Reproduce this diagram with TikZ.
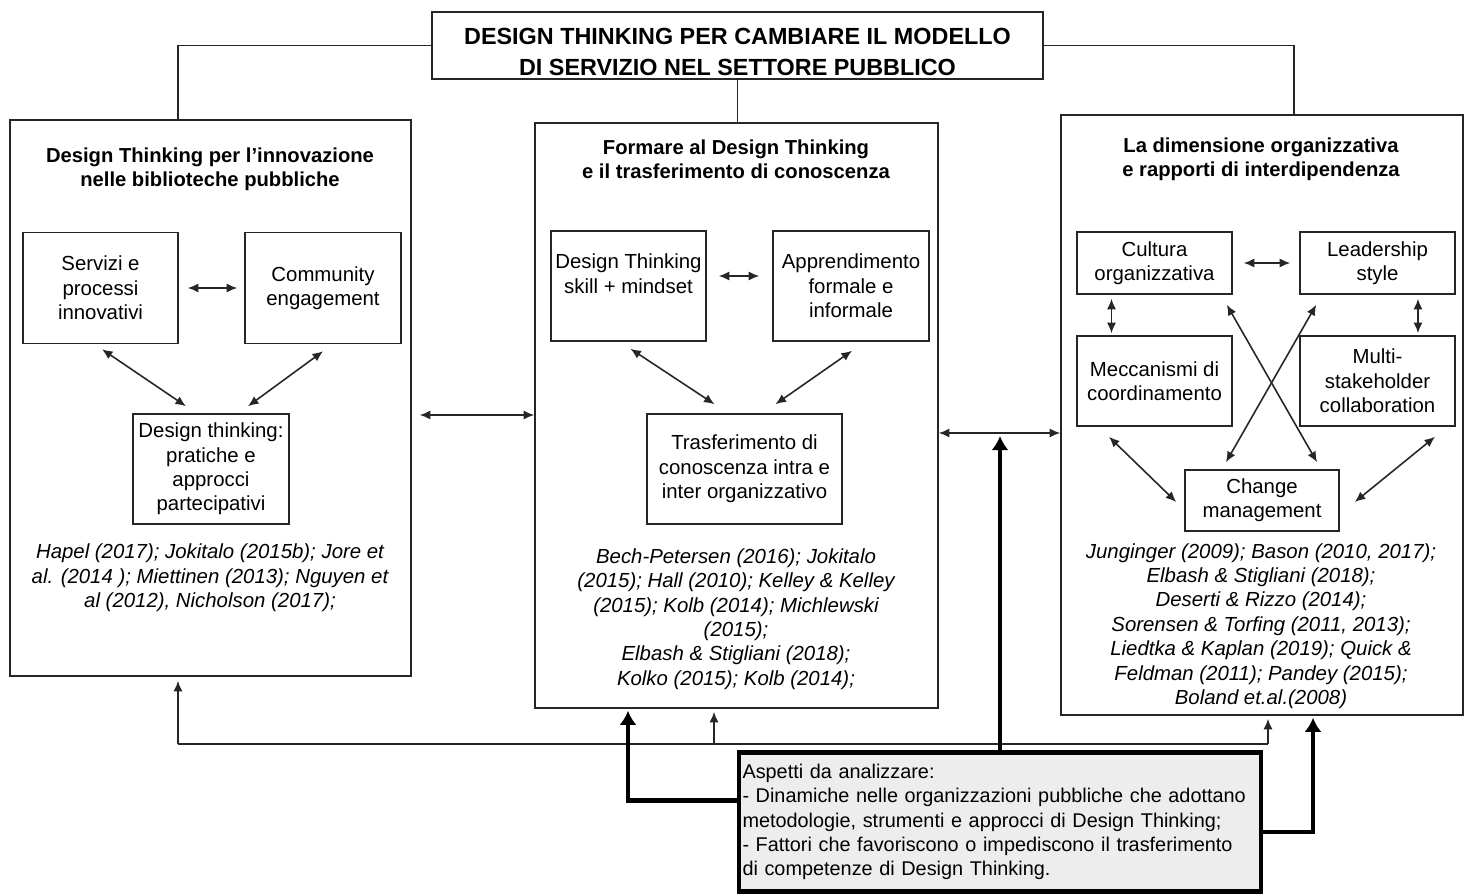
\documentclass[tikz,border=0pt]{standalone}
\usepackage{fontspec}
\setmainfont{Liberation Sans}
\usetikzlibrary{arrows.meta, calc}

\newcommand\bodysize{\fontsize{11.6}{13.9}\selectfont}
\newcommand\aspsize{\fontsize{11.3}{13.9}\selectfont}
\newcommand\headsize{\fontsize{11.5}{13.6}\selectfont}
\newcommand\titlesize{\fontsize{13.3}{17.5}\selectfont}

\begin{document}
\begin{tikzpicture}[x=0.2mm, y=-0.2mm,
    wire/.style={line width=0.9pt, draw=black!85},
    dbl/.style={wire, {Latex[length=2.1mm,width=1.8mm]}-{Latex[length=2.1mm,width=1.8mm]}},
    up/.style={wire, -{Latex[length=2.1mm,width=1.8mm]}},
    heavy/.style={line width=2.8pt, -{Latex[length=2.8mm,width=3.4mm]}},
    box/.style={draw=black!85, line width=0.9pt, inner sep=0pt, align=center, font=\bodysize},
    panel/.style={draw=black!85, line width=0.9pt},
    heading/.style={align=center, font=\bfseries\headsize},
    cites/.style={align=center, font=\itshape\bodysize}
]
    \useasboundingbox (0,0) rectangle (1470,895);

    % Title
    \node at (737.5,45.5) [panel, minimum width=122.2mm, minimum height=13.4mm] (title) {};
    \node at (737.5,52) [align=center, font=\bfseries\titlesize] (titletext)
        {DESIGN THINKING PER CAMBIARE IL MODELLO\\DI SERVIZIO NEL SETTORE PUBBLICO};

    % Three panels
    \node at (210.5,398) [panel, minimum width=80.2mm, minimum height=111.2mm] (lib) {};
    \node at (736.5,415.5) [panel, minimum width=80.6mm, minimum height=117mm] (mid) {};
    \node at (1262,415) [panel, minimum width=80.4mm, minimum height=120mm] (org) {};

    \node at (210,169) [heading] (libhead) {Design Thinking per l’innovazione\\nelle biblioteche pubbliche};
    \node at (736,159) [heading] (midhead) {Formare al Design Thinking\\e il trasferimento di conoscenza};
    \node at (1261,159) [heading] (orghead) {La dimensione organizzativa\\e rapporti di interdipendenza};

    \draw[wire] (title.west) -| ([xshift=-6.5mm]lib.north);
    \draw[wire] (title.south) -- (title.south |- mid.north);
    \draw[wire] (title.east) -| ([xshift=6.4mm]org.north);

    % Left panel
    \node at (100.5,288) [box, minimum width=31mm, minimum height=22.2mm] (srv) {Servizi e\\processi\\innovativi};
    \node at (323,288) [box, minimum width=31.2mm, minimum height=22.2mm] (com) {Community\\engagement};
    \node at (211,469) [box, minimum width=31.2mm, minimum height=22mm] (dtp) {Design thinking:\\pratiche e\\approcci\\partecipativi};
    \draw[dbl, shorten <=1.8mm, shorten >=1.4mm] (srv.east) -- (com.west);
    \draw[dbl] ($(srv.south)+(1.5,5)$) -- ($(dtp.north)+(-25,-7)$);
    \draw[dbl] ($(com.south)+(0,7)$) -- ($(dtp.north)+(37,-7)$);
    \node at (210,578) [cites] (libcit) {Hapel (2017); Jokitalo (2015b); Jore et\\al. (2014 ); Miettinen (2013); Nguyen et\\al (2012), Nicholson (2017);};

    % Middle panel
    \node at (628.5,286) [box, minimum width=31mm, minimum height=22mm] (dts) {Design Thinking\\skill + mindset\\\mbox{}};
    \node at (851,286) [box, minimum width=31.2mm, minimum height=22mm] (app) {Apprendimento\\formale e\\informale};
    \node at (744.5,469) [box, minimum width=39mm, minimum height=22mm] (trf) {Trasferimento di\\conoscenza intra e\\inter organizzativo};
    \draw[dbl, shorten <=2.4mm, shorten >=2.6mm] ([yshift=2mm]dts.east) -- ([yshift=2mm]app.west);
    \draw[dbl] ($(dts.south)+(2,7)$) -- ($(trf.north)+(-30,-9)$);
    \draw[dbl] ($(app.south)+(1,9)$) -- ($(trf.north)+(31,-9)$);
    \node at (736,619) [cites] (midcit) {Bech-Petersen (2016); Jokitalo\\(2015); Hall (2010); Kelley \& Kelley\\(2015); Kolb (2014); Michlewski\\(2015);\\Elbash \& Stigliani (2018);\\Kolko (2015); Kolb (2014);};

    % Right panel
    \node at (1154.5,263) [box, minimum width=31mm, minimum height=12.4mm] (cul) {Cultura\\organizzativa};
    \node at (1377.5,263) [box, minimum width=31mm, minimum height=12.4mm] (lea) {Leadership\\style};
    \node at (1154.5,381) [box, minimum width=31mm, minimum height=18mm] (mec) {Meccanismi di\\coordinamento};
    \node at (1377.5,381) [box, minimum width=31mm, minimum height=18mm] (mul) {Multi-\\stakeholder\\collaboration};
    \node at (1262,500.5) [box, minimum width=30.8mm, minimum height=12.2mm] (chg) {Change\\management};
    \draw[dbl, shorten <=2.2mm, shorten >=1.8mm] (cul.east) -- (lea.west);
    \draw[dbl] ($(cul.south)+(-43,4)$) -- ($(mec.north)+(-43,-2)$);
    \draw[dbl] ($(lea.south)+(40.5,4)$) -- ($(mul.north)+(40.5,-2)$);
    \draw[dbl] ($(cul.south east)+(-6,10)$) -- ($(chg.north)+(55,-7)$);
    \draw[dbl] ($(lea.south west)+(17,10)$) -- ($(chg.north)+(-36,-7)$);
    \draw[dbl] ($(mec.south)+(-45.5,10)$) -- ($(chg.west)+(-8,1.5)$);
    \draw[dbl] ($(mul.south)+(57.5,10)$) -- ($(chg.east)+(15,1.5)$);
    \node at (1261,626) [cites] (orgcit) {Junginger (2009); Bason (2010, 2017);\\Elbash \& Stigliani (2018);\\Deserti \& Rizzo (2014);\\Sorensen \& Torfing (2011, 2013);\\Liedtka \& Kaplan (2019); Quick \&\\Feldman (2011); Pandey (2015);\\Boland et.al.(2008)};

    % Links between panels
    \coordinate (gapL) at (476,415);
    \coordinate (hub) at (1000,433);
    \draw[dbl, shorten <=1.6mm] (lib.east |- gapL) -- (mid.west |- gapL);
    \draw[dbl] (mid.east |- hub) -- (org.west |- hub);

    % Feedback line under the panels
    \coordinate (busL) at (178,744);
    \coordinate (busM) at (714,744);
    \coordinate (busR) at (1268,744);
    \draw[wire] (busL) -- (busR);
    \draw[up, shorten >=0.8mm] (busL) -- (busL |- lib.south);
    \draw[up, shorten >=0.6mm] (busM) -- (busM |- mid.south);
    \draw[up, shorten >=0.6mm] (busR) -- (busR |- org.south);

    % Aspects box
    \node at (1000,822) [draw, line width=2.4pt, fill=black!7, text width=103mm, inner xsep=0.7mm,
        minimum height=27.8mm, align=left, font=\aspsize] (asp)
        {Aspetti da analizzare:\\- Dinamiche nelle organizzazioni pubbliche che adottano\\metodologie, strumenti e approcci di Design Thinking;\\- Fattori che favoriscono o impediscono il trasferimento\\di competenze di Design Thinking.};
    \draw[heavy, shorten >=0.6mm] (asp.north -| hub) -- (hub);
    \draw[heavy, shorten >=0.4mm] ([yshift=4.3mm]asp.west) -| ([xshift=-21.7mm]mid.south);
    \draw[heavy, shorten >=0.4mm] ([yshift=-2mm]asp.east) -| ([xshift=10.2mm]org.south);
\end{tikzpicture}
\end{document}
